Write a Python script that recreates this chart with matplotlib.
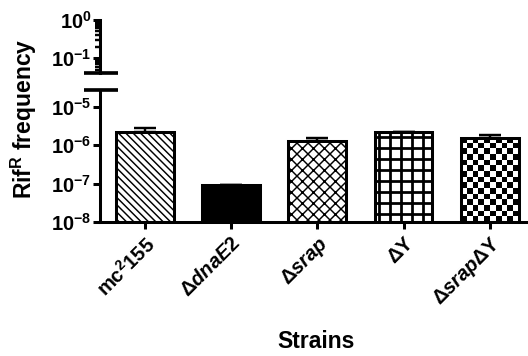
import numpy as np
import matplotlib
matplotlib.use("Agg")
import matplotlib.pyplot as plt

# Data
strains = ["mc$^{2}$155", "Δ$\\mathit{dnaE2}$", "Δ$\\mathit{srap}$", "ΔY", "Δ$\\mathit{srap}$ΔY"]
freq = [2.2e-6, 9.3e-8, 1.25e-6, 2.2e-6, 1.55e-6]
freq_err = [0.6e-6, 0.0, 0.3e-6, 0.05e-6, 0.23e-6]
hatches = ["\\\\\\", None, "//\\\\", "+", "checker"]
facecolors = ["white", "black", "white", "white", "none"]

DPI = 66
plt.rcParams["font.family"] = "Liberation Sans"
plt.rcParams["font.weight"] = "bold"
plt.rcParams["mathtext.fontset"] = "custom"
plt.rcParams["mathtext.rm"] = "Liberation Sans:bold"
plt.rcParams["mathtext.bf"] = "Liberation Sans:bold"
plt.rcParams["mathtext.it"] = "Liberation Sans:bold:italic"
plt.rcParams["mathtext.default"] = "bf"
plt.rcParams["hatch.linewidth"] = 1.6

LW = 3.3
TICK_FS = 22
fig = plt.figure(figsize=(528 / DPI, 356 / DPI), dpi=DPI)
ax_top = fig.add_axes([0.189, 0.795, 0.809, 0.149])
ax_bot = fig.add_axes([0.189, 0.376, 0.809, 0.371])

x = np.arange(len(strains))
floor = 1e-8

for ax in (ax_top, ax_bot):
    ax.set_yscale("log")
    ax.set_xlim(-0.52, 4.43)
    for s in ("top", "right"):
        ax.spines[s].set_visible(False)
    ax.spines["left"].set_linewidth(LW)
    ax.spines["bottom"].set_linewidth(LW)
    ax.tick_params(axis="y", which="major", length=8, width=LW, labelsize=TICK_FS, pad=1)
    ax.tick_params(axis="y", which="minor", length=5, width=LW * 0.8)

ax_top.set_ylim(10 ** -1.39, 1)
ax_top.spines["bottom"].set_visible(False)
ax_top.set_xticks([])
ax_top.set_yticks([1e-1, 1e0])

ax_bot.set_ylim(floor, 10 ** -4.57)
ax_bot.set_yticks([1e-8, 1e-7, 1e-6, 1e-5])

bars = ax_bot.bar(x, np.array(freq) - floor, bottom=floor, width=0.67,
                  color=facecolors, edgecolor="black", linewidth=LW, zorder=2)
for b, h in zip(bars, hatches):
    if h and h != "checker":
        b.set_hatch(h)
        if h == "+" and hasattr(b, "set_hatch_linewidth"):
            b.set_hatch_linewidth(3.0)

ax_bot.errorbar(x, freq, yerr=[np.zeros(len(freq)), freq_err], fmt="none",
                ecolor="black", elinewidth=LW * 0.8, capsize=12, capthick=LW * 0.8,
                zorder=1)

# checkerboard fill for the last bar
b = bars[-1]
bx0, bx1 = b.get_x(), b.get_x() + b.get_width()
y_top = freq[-1]
p0 = ax_bot.transData.transform((bx0, floor))
p1 = ax_bot.transData.transform((bx1, y_top))
sq = 5.6
ncol = max(1, int(round((p1[0] - p0[0]) / sq)))
nrow = max(1, int(round((p1[1] - p0[1]) / sq)))
board = (np.add.outer(np.arange(nrow), np.arange(ncol)) % 2).astype(float)
ins = ax_bot.inset_axes([bx0, floor, bx1 - bx0, y_top - floor], transform=ax_bot.transData,
                        zorder=1.5)
ins.imshow(board, cmap="gray", aspect="auto", interpolation="nearest")
ins.set_axis_off()

ax_bot.set_xticks(x)
ax_bot.set_xticklabels(strains, rotation=45, ha="right", rotation_mode="anchor",
                       fontsize=TICK_FS)
ax_bot.tick_params(axis="x", length=8, width=LW, pad=4)

# axis break marks
brk = dict(color="black", linewidth=4, clip_on=False, solid_capstyle="butt")
ax_top.plot([-0.037, 0.042], [0, 0], transform=ax_top.transAxes, **brk)
ax_bot.plot([-0.037, 0.042], [1, 1], transform=ax_bot.transAxes, **brk)

fig.text(24 / 528, 1 - 119 / 356, "Rif$^{R}$ frequency", rotation=90,
         ha="center", va="center", fontsize=25)
fig.text(316 / 528, 1 - 341 / 356, "Strains", ha="center", va="center", fontsize=25)

fig.savefig("out.png", dpi=DPI)
